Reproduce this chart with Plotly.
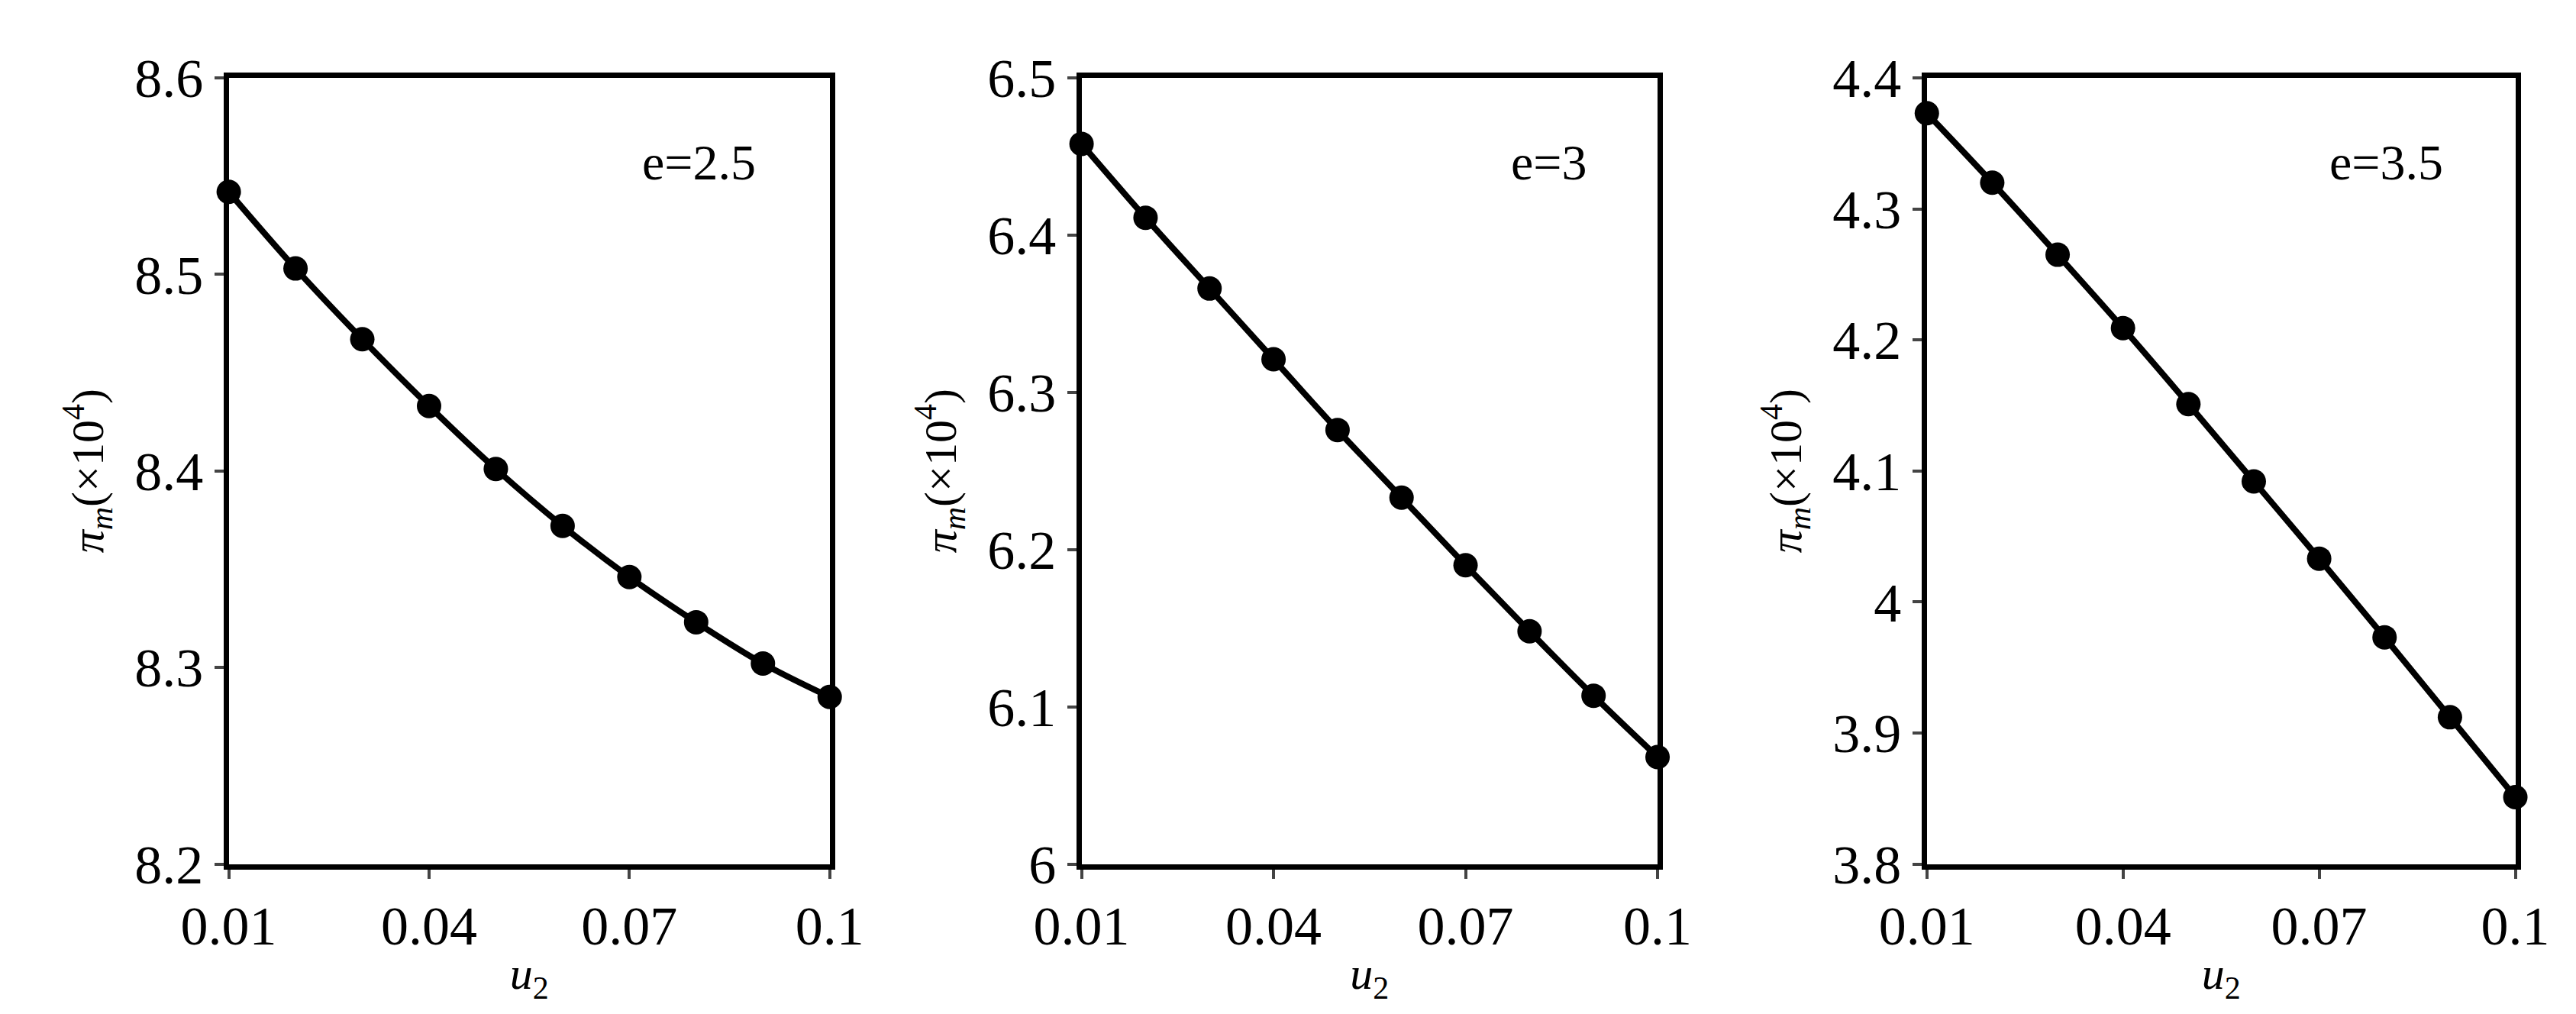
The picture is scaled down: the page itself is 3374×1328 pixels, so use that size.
import plotly.graph_objects as go
from plotly.subplots import make_subplots

u2 = [0.01, 0.02, 0.03, 0.04, 0.05, 0.06, 0.07, 0.08, 0.09, 0.1]
pi_e25 = [8.542, 8.503, 8.467, 8.433, 8.401, 8.372, 8.346, 8.323, 8.302, 8.285]
pi_e3 = [6.458, 6.411, 6.366, 6.321, 6.276, 6.233, 6.190, 6.148, 6.107, 6.068]
pi_e35 = [4.373, 4.320, 4.265, 4.209, 4.151, 4.092, 4.033, 3.973, 3.912, 3.851]
labels = ["e=2.5", "e=3", "e=3.5"]
yranges = [[8.2, 8.6], [6.0, 6.5], [3.8, 4.4]]

font = "Liberation Serif, Times New Roman, serif"
fig = make_subplots(rows=1, cols=3)
doms = [[0.070, 0.311], [0.412, 0.643], [0.751, 0.987]]

for i, ys in enumerate([pi_e25, pi_e3, pi_e35]):
    c = i + 1
    fig.add_trace(go.Scatter(x=u2, y=ys, mode="lines+markers",
                             line=dict(color="black", width=8, shape="spline"),
                             marker=dict(color="black", size=32),
                             showlegend=False, cliponaxis=False), row=1, col=c)
    fig.update_xaxes(range=[0.01, 0.1], tickvals=[0.01, 0.04, 0.07, 0.1],
                     ticktext=["0.01", "0.04", "0.07", "0.1"],
                     domain=doms[i], showline=True, linewidth=7, linecolor="black",
                     mirror=True, ticks="outside", ticklen=12, tickwidth=4,
                     showgrid=False, zeroline=False,
                     title=dict(text="<i>u</i><sub>2</sub>", standoff=4,
                                font=dict(size=60, family=font)),
                     tickfont=dict(size=72, family=font, color="black"),
                     row=1, col=c)
    fig.update_yaxes(range=yranges[i], dtick=0.1, tick0=yranges[i][0],
                     domain=[0.131, 0.956], showline=True, linewidth=7,
                     linecolor="black", mirror=True, ticks="outside", ticklen=12,
                     tickwidth=4, showgrid=False, zeroline=False,
                     title=dict(text="<i>π<sub>m</sub></i>(×10<sup>4</sup>)", standoff=24,
                                font=dict(size=60, family=font)),
                     tickfont=dict(size=72, family=font, color="black"),
                     row=1, col=c)
    fig.add_annotation(x=0.88, y=0.93, xref=f"x{'' if c == 1 else c} domain",
                       yref=f"y{'' if c == 1 else c} domain", text=labels[i],
                       showarrow=False, xanchor="right", yanchor="top",
                       font=dict(size=66, family=font, color="black"))

fig.update_layout(width=3374, height=1328, plot_bgcolor="white", paper_bgcolor="white",
                  margin=dict(l=0, r=0, t=0, b=0), font=dict(family=font, color="black"))
fig.write_html("out.html")
